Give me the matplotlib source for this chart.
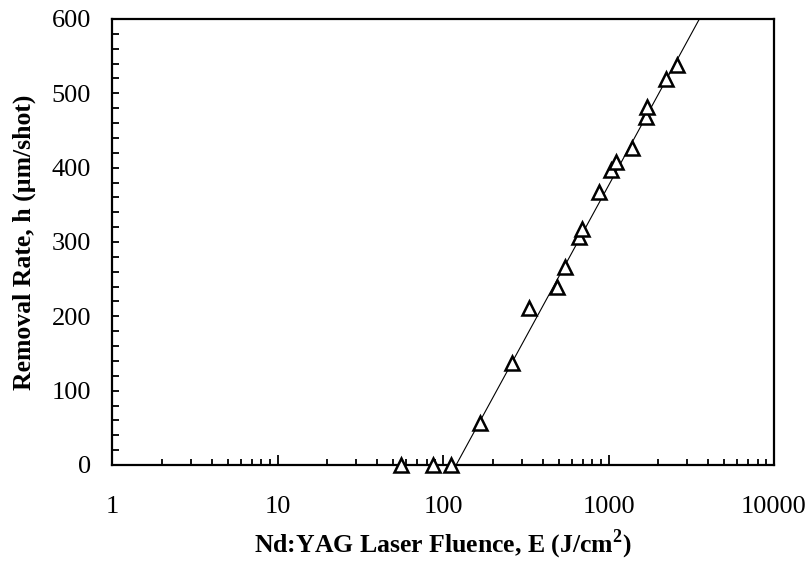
import matplotlib.pyplot as plt
import matplotlib.ticker as mticker
import numpy as np

plt.rcParams['font.family'] = ['Liberation Serif', 'DejaVu Serif']
plt.rcParams['mathtext.fontset'] = 'custom'
plt.rcParams['mathtext.rm'] = 'Liberation Serif'
plt.rcParams['mathtext.bf'] = 'Liberation Serif:bold'

# measured data: fluence (J/cm2) and removal rate (um/shot)
fluence = [55.5, 86.6, 111, 167, 261, 329, 491, 548, 661, 692, 880,
           1035, 1110, 1381, 1678, 1702, 2215, 2606]
removal = [0, 0, 0, 57, 137, 211, 239, 267, 307, 317, 367,
           397, 408, 427, 468, 482, 519, 538]

# logarithmic fit line (threshold ~120 J/cm2)
fit_E = [120, 3540]
fit_h = [0, 600]

fig = plt.figure(figsize=(8.11, 5.72), dpi=100)
ax = fig.add_axes([0.1381, 0.1871, 0.8163, 0.7797])

ax.plot(fit_E, fit_h, color='black', linewidth=0.8)
ax.plot(fluence, removal, linestyle='none', marker='^', markersize=10.5,
        markerfacecolor='white', markeredgecolor='black', markeredgewidth=1.8,
        clip_on=False, zorder=3)

ax.set_xscale('log')
ax.set_xlim(1, 10000)
ax.set_ylim(0, 600)
ax.xaxis.set_major_locator(mticker.LogLocator(base=10, numticks=10))
ax.xaxis.set_minor_locator(mticker.LogLocator(base=10, subs=np.arange(2, 10), numticks=20))
ax.xaxis.set_major_formatter(mticker.FuncFormatter(lambda v, p: f'{v:g}'))
ax.xaxis.set_minor_formatter(mticker.NullFormatter())
ax.yaxis.set_major_locator(mticker.MultipleLocator(100))
ax.yaxis.set_minor_locator(mticker.MultipleLocator(20))

for s in ax.spines.values():
    s.set_linewidth(1.6)

ax.tick_params(axis='both', which='both', direction='in', width=1.3,
               top=False, right=False, labelsize=19)
ax.tick_params(axis='x', which='major', length=7, pad=22)
ax.tick_params(axis='x', which='minor', length=4.5)
ax.tick_params(axis='y', which='major', length=5, pad=15)
ax.tick_params(axis='y', which='minor', length=5)

ax.set_xlabel('Nd:YAG Laser Fluence, E (J/cm$^{\\mathbf{2}}$)', fontsize=18.5,
              fontweight='bold', labelpad=7)
ax.set_ylabel('Removal Rate, h (µm/shot)', fontsize=18.5, fontweight='bold',
              labelpad=11)

fig.savefig('out.png', dpi=100)
